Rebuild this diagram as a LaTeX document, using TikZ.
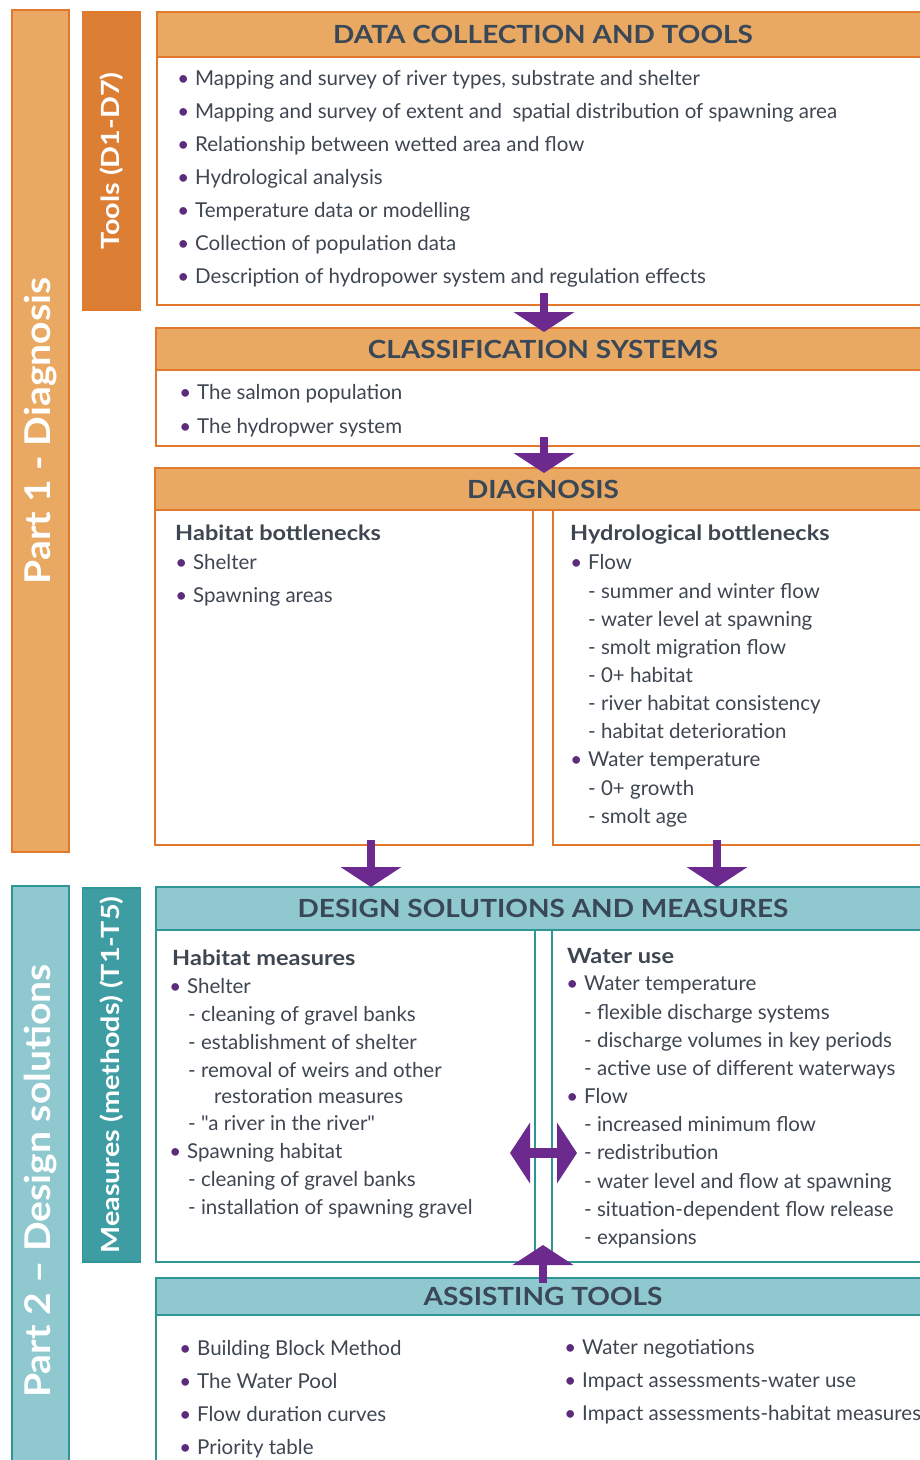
\documentclass[tikz,border=0pt]{standalone}
\usepackage{fontspec}
\setmainfont{Lato}[Ligatures=TeXOff]
\newfontfamily\widefont{Lato}[Ligatures=TeXOff,FakeStretch=1.12]
\newfontfamily\barfont{Lato}[Ligatures=TeXOff,FakeStretch=1.1]
\newfontfamily\smallbarfont{Lato}[Ligatures=TeXOff,FakeStretch=1.15]
\usetikzlibrary{arrows.meta,calc}
\definecolor{orgfill}{HTML}{E9A963}
\definecolor{orgline}{HTML}{E1782C}
\definecolor{toolsfill}{HTML}{DD7E35}
\definecolor{tealfill}{HTML}{8FC9CF}
\definecolor{tealline}{HTML}{2F9696}
\definecolor{measfill}{HTML}{3E9DA3}
\definecolor{arrowc}{HTML}{6D2A8E}
\definecolor{bulc}{HTML}{5C2B7C}
\definecolor{txtc}{HTML}{3E4651}
\definecolor{hdrc}{HTML}{3A4757}
\newcommand\bu{\makebox[0pt][r]{\textcolor{bulc}{•}\hspace{6pt}}}
\begin{document}
\begin{tikzpicture}[x=1pt,y=-1pt,
  hdrO/.style={draw=orgline,fill=orgfill,line width=1.8pt,text=hdrc,font=\fontsize{25}{28}\widefont\bfseries,inner sep=0,outer sep=0},
  boxO/.style={draw=orgline,fill=white,line width=1.8pt,inner sep=0,outer sep=0},
  hdrT/.style={draw=tealline,fill=tealfill,line width=1.8pt,text=hdrc,font=\fontsize{25}{28}\widefont\bfseries,inner sep=0,outer sep=0},
  boxT/.style={draw=tealline,fill=white,line width=1.8pt,inner sep=0,outer sep=0},
  barbig/.style={line width=1.5pt,text=white,font=\fontsize{35.5}{40}\barfont\bfseries,inner sep=0,outer sep=0,rotate=90},
  barsmall/.style={line width=1.2pt,text=white,font=\fontsize{25}{28}\smallbarfont\bfseries,inner sep=0,outer sep=0,rotate=90},
  itm/.style={anchor=mid west,inner sep=0,yshift=-4.5pt,text=txtc,font=\fontsize{20.5}{24}\selectfont},
  sub/.style={anchor=mid west,inner sep=0,yshift=-4.5pt,text=txtc,font=\fontsize{21}{24}\widefont\bfseries},
  bigarrow/.style={draw=arrowc,line width=8pt,-{Triangle[width=60pt,length=20pt]}},
  dblarrow/.style={draw=arrowc,line width=10pt,{Triangle[width=60pt,length=20pt]}-{Triangle[width=60pt,length=20pt]}}
]
\useasboundingbox (0,0) rectangle (920,1460);
\clip (0,0) rectangle (920,1460);
\fill[white] (0,0) rectangle (920,1460);

% side bars
\node[barbig,draw=orgline,fill=orgfill,minimum width=842,minimum height=57] (part1) at (40.5,431) {Part 1 - Diagnosis};
\node[barsmall,draw=orgline,fill=toolsfill,minimum width=298,minimum height=58] (tools) at (111.5,161) {Tools (D1-D7)};
\node[barbig,draw=tealline,fill=tealfill,minimum width=590,minimum height=57] (part2) at (40.5,1181) {Part 2 – Design solutions};
\node[barsmall,draw=tealline,fill=measfill,minimum width=374,minimum height=58] (meas) at (111.5,1075) {Measures (methods) (T1-T5)};

% data collection
\node[boxO,minimum width=772,minimum height=248] (dcbody) at (543,181) {};
\node[hdrO,minimum width=772,minimum height=45] (dchead) at (543,34.5) {DATA COLLECTION AND TOOLS};
\foreach \yy/\tx [count=\i] in {78/{Mapping and survey of river types, substrate and shelter},
  111/{Mapping and survey of extent and\ \ spatial distribution of spawning area},
  144/{Relationship between wetted area and flow},
  177/{Hydrological analysis},
  210/{Temperature data or modelling},
  243/{Collection of population data},
  276/{Description of hydropower system and regulation effects}}
  \node[itm] (dc\i) at (195,\yy) {\bu\tx};

% classification
\node[boxO,minimum width=774,minimum height=76] (clbody) at (543,408) {};
\node[hdrO,minimum width=774,minimum height=42] (clhead) at (543,349) {CLASSIFICATION SYSTEMS};
\node[itm] (cl1) at (197,392) {\bu The salmon population};
\node[itm] (cl2) at (197,426) {\bu The hydropwer system};

% diagnosis
\node[boxO,minimum width=378,minimum height=335] (dgL) at (344,677.5) {};
\node[boxO,minimum width=376,minimum height=335] (dgR) at (741,677.5) {};
\node[hdrO,minimum width=776,minimum height=42] (dghead) at (543,489) {DIAGNOSIS};
\node[sub] (dgLt) at (175,533) {Habitat bottlenecks};
\node[itm] (dgL1) at (193,562) {\bu Shelter};
\node[itm] (dgL2) at (193,595) {\bu Spawning areas};
\node[sub] (dgRt) at (570,533) {Hydrological bottlenecks};
\node[itm] (dgR1) at (588,562) {\bu Flow};
\foreach \yy/\tx [count=\i] in {591/{summer and winter flow},619/{water level at spawning},647/{smolt migration flow},675/{0+ habitat},703/{river habitat consistency},731/{habitat deterioration}}
  \node[itm] (dgRf\i) at (588,\yy) {- \tx};
\node[itm] (dgR2) at (588,759) {\bu Water temperature};
\node[itm] (dgRw1) at (588,788) {- 0+ growth};
\node[itm] (dgRw2) at (588,816) {- smolt age};

% design solutions
\node[boxT,minimum width=379,minimum height=332] (dsL) at (345.5,1096) {};
\node[boxT,minimum width=378,minimum height=332] (dsR) at (741,1096) {};
\node[hdrT,minimum width=774,minimum height=43] (dshead) at (543,908.5) {DESIGN SOLUTIONS AND MEASURES};
\node[sub] (dsLt) at (172,958) {Habitat measures};
\node[itm] (dsL1) at (187,986) {\bu Shelter};
\node[itm] (dsLa) at (188,1014) {- cleaning of gravel banks};
\node[itm] (dsLb) at (188,1042) {- establishment of shelter};
\node[itm] (dsLc) at (188,1070) {- removal of weirs and other};
\node[itm] (dsLd) at (214,1096) {restoration measures};
\node[itm] (dsLe) at (188,1123) {- "a river in the river"};
\node[itm] (dsL2) at (187,1151) {\bu Spawning habitat};
\node[itm] (dsLf) at (188,1179) {- cleaning of gravel banks};
\node[itm] (dsLg) at (188,1207) {- installation of spawning gravel};
\node[sub] (dsRt) at (567,956) {Water use};
\node[itm] (dsR1) at (584,983) {\bu Water temperature};
\node[itm] (dsRa) at (584,1012) {- flexible discharge systems};
\node[itm] (dsRb) at (584,1040) {- discharge volumes in key periods};
\node[itm] (dsRc) at (584,1068) {- active use of different waterways};
\node[itm] (dsR2) at (584,1096) {\bu Flow};
\node[itm] (dsRd) at (584,1124) {- increased minimum flow};
\node[itm] (dsRe) at (584,1152) {- redistribution};
\node[itm] (dsRf) at (584,1181) {- water level and flow at spawning};
\node[itm] (dsRg) at (584,1209) {- situation-dependent flow release};
\node[itm] (dsRh) at (584,1237) {- expansions};

% assisting tools
\node[boxT,minimum width=774,minimum height=160] (atbody) at (543,1395) {};
\node[hdrT,minimum width=774,minimum height=37] (athead) at (543,1296.5) {ASSISTING TOOLS};
\node[itm] (at1) at (197,1348) {\bu Building Block Method};
\node[itm] (at2) at (197,1381) {\bu The Water Pool};
\node[itm] (at3) at (197,1414) {\bu Flow duration curves};
\node[itm] (at4) at (197,1447) {\bu Priority table};
\node[itm] (at5) at (582,1347) {\bu Water negotiations};
\node[itm] (at6) at (582,1380) {\bu Impact assessments-water use};
\node[itm] (at7) at (582,1413) {\bu Impact assessments-habitat measures};

% arrows
\draw[bigarrow] ([xshift=1pt,yshift=12pt]dcbody.south) -- ([xshift=1pt,yshift=-4pt]clhead.north);
\draw[bigarrow] ([xshift=1pt,yshift=9pt]clbody.south) -- ([xshift=1pt,yshift=-5pt]dghead.north);
\draw[bigarrow] ([xshift=27pt,yshift=5pt]dgL.south) -- ([xshift=27pt]dgL.south |- dshead.north);
\draw[bigarrow] ([xshift=-24pt,yshift=5pt]dgR.south) -- ([xshift=-24pt]dgR.south |- dshead.north);
\draw[dblarrow] ([xshift=-25pt,yshift=-57pt]dsL.east) -- ([xshift=25pt,yshift=-57pt]dsR.west);
\draw[bigarrow] ([yshift=-5pt]athead.north) -- ([yshift=17pt]athead.north |- dsL.south);
\end{tikzpicture}
\end{document}
